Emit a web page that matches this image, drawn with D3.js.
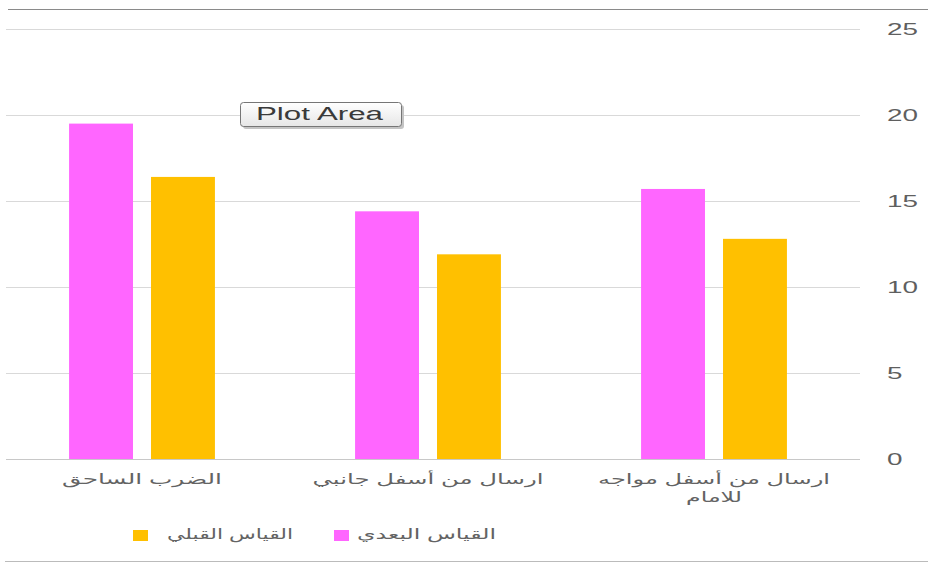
<!DOCTYPE html>
<html><head><meta charset="utf-8">
<script src="https://cdn.jsdelivr.net/npm/d3@7"></script>
<style>body{margin:0;background:#fff}svg{display:block}</style>
</head><body>
<svg id="c" width="928" height="563"></svg>
<script>
const categories = ["الضرب الساحق", "ارسال من أسفل جانبي", "ارسال من أسفل مواجه للامام"];
const categoryLines = [["الضرب الساحق"], ["ارسال من أسفل جانبي"], ["ارسال من أسفل مواجه", "للامام"]];
const seriesNames = ["القياس البعدي", "القياس القبلي"];
const postValues = [19.5, 14.4, 15.7];
const preValues = [16.4, 11.9, 12.8];
const yTicks = [0, 5, 10, 15, 20, 25];
const colors = ["#FF66FF", "#FFC000"];

// text widths (layout only)
const categoryLineWidths = [[160], [231], [232, 56]];

const svg = d3.select("#c");
const W = 928;
const x0 = d3.scaleBand().domain(categories).range([-1, 857]).padding(0);
const step = x0.bandwidth();
const x1 = d3.scaleBand().domain(seriesNames).range([step * 0.245, step * 0.755]).paddingInner(0.22);
const y = d3.scaleLinear().domain([0, 25]).range([459, 29]);

// chart border lines
svg.append("line").attr("x1", 8).attr("x2", W).attr("y1", 9.5).attr("y2", 9.5).attr("stroke", "#8a8a8a").attr("stroke-width", 1.2);
svg.append("line").attr("x1", 5).attr("x2", W).attr("y1", 561.5).attr("y2", 561.5).attr("stroke", "#bbbbbb").attr("stroke-width", 1.2);

// gridlines
svg.append("g").selectAll("line").data(yTicks).join("line")
  .attr("x1", 6).attr("x2", 860)
  .attr("y1", d => Math.round(y(d)) + 0.5).attr("y2", d => Math.round(y(d)) + 0.5)
  .attr("stroke", d => d === 0 ? "#c8c8c8" : "#d9d9d9").attr("stroke-width", 1);

// y axis labels on right
const yAxis = d3.axisRight(y).tickValues(yTicks).tickSize(0).tickPadding(0);
const ya = svg.append("g").attr("transform", "translate(887,0)").call(yAxis);
ya.select(".domain").remove();
ya.selectAll("text")
  .attr("font-family", "Liberation Sans, Arial, sans-serif").attr("font-size", 17).attr("fill", "#5f5f5f")
  .attr("textLength", d => String(d).length * 15.5).attr("lengthAdjust", "spacingAndGlyphs");

// bars
const data = categories.map((c, i) => ({c, vals: [postValues[i], preValues[i]]}));
const g = svg.append("g").selectAll("g").data(data).join("g")
  .attr("transform", d => `translate(${x0(d.c)},0)`);
g.selectAll("rect").data(d => d.vals.map((v, j) => ({name: seriesNames[j], v, j}))).join("rect")
  .attr("x", d => x1(d.name)).attr("width", x1.bandwidth())
  .attr("y", d => y(d.v)).attr("height", d => y(0) - y(d.v))
  .attr("fill", d => colors[d.j]);

// category labels
categories.forEach((c, i) => {
  categoryLines[i].forEach((ln, k) => {
    const w = categoryLineWidths[i][k];
    svg.append("text")
      .attr("x", x0(c) + step / 2 - w / 2).attr("y", 484 + k * 18)
      .attr("text-anchor", "start")
      .attr("font-family", "Liberation Sans, DejaVu Sans, sans-serif").attr("font-size", 14).attr("fill", "#636363")
      .attr("textLength", w).attr("lengthAdjust", "spacingAndGlyphs")
      .text(ln);
  });
});

// legend
const legend = [
  {name: seriesNames[1], color: colors[1], sx: 133, tx: 167, tw: 126},
  {name: seriesNames[0], color: colors[0], sx: 334, tx: 357, tw: 139}
];
const lg = svg.append("g");
lg.selectAll("rect").data(legend).join("rect")
  .attr("x", d => d.sx).attr("y", 530).attr("width", 15).attr("height", 11).attr("fill", d => d.color);
lg.selectAll("text").data(legend).join("text")
  .attr("x", d => d.tx).attr("y", 539).attr("text-anchor", "start")
  .attr("font-family", "Liberation Sans, DejaVu Sans, sans-serif").attr("font-size", 14).attr("fill", "#636363")
  .attr("textLength", d => d.tw).attr("lengthAdjust", "spacingAndGlyphs")
  .text(d => d.name);

// Plot Area tooltip
const defs = svg.append("defs");
const grad = defs.append("linearGradient").attr("id", "tg").attr("x1", 0).attr("y1", 0).attr("x2", 0).attr("y2", 1);
grad.append("stop").attr("offset", "0%").attr("stop-color", "#ffffff");
grad.append("stop").attr("offset", "100%").attr("stop-color", "#e6e6e6");
svg.append("rect").attr("x", 243).attr("y", 105).attr("width", 161).attr("height", 24).attr("rx", 3)
  .attr("fill", "#c4c4c4");
svg.append("rect").attr("x", 240.5).attr("y", 102.5).attr("width", 161).attr("height", 24).attr("rx", 3)
  .attr("fill", "url(#tg)").attr("stroke", "#767676");
svg.append("text").attr("x", 256).attr("y", 120).attr("text-anchor", "start")
  .attr("font-family", "Liberation Sans, sans-serif").attr("font-size", 18).attr("fill", "#3a3a3a")
  .attr("textLength", 127).attr("lengthAdjust", "spacingAndGlyphs")
  .text("Plot Area");
</script>
</body></html>
